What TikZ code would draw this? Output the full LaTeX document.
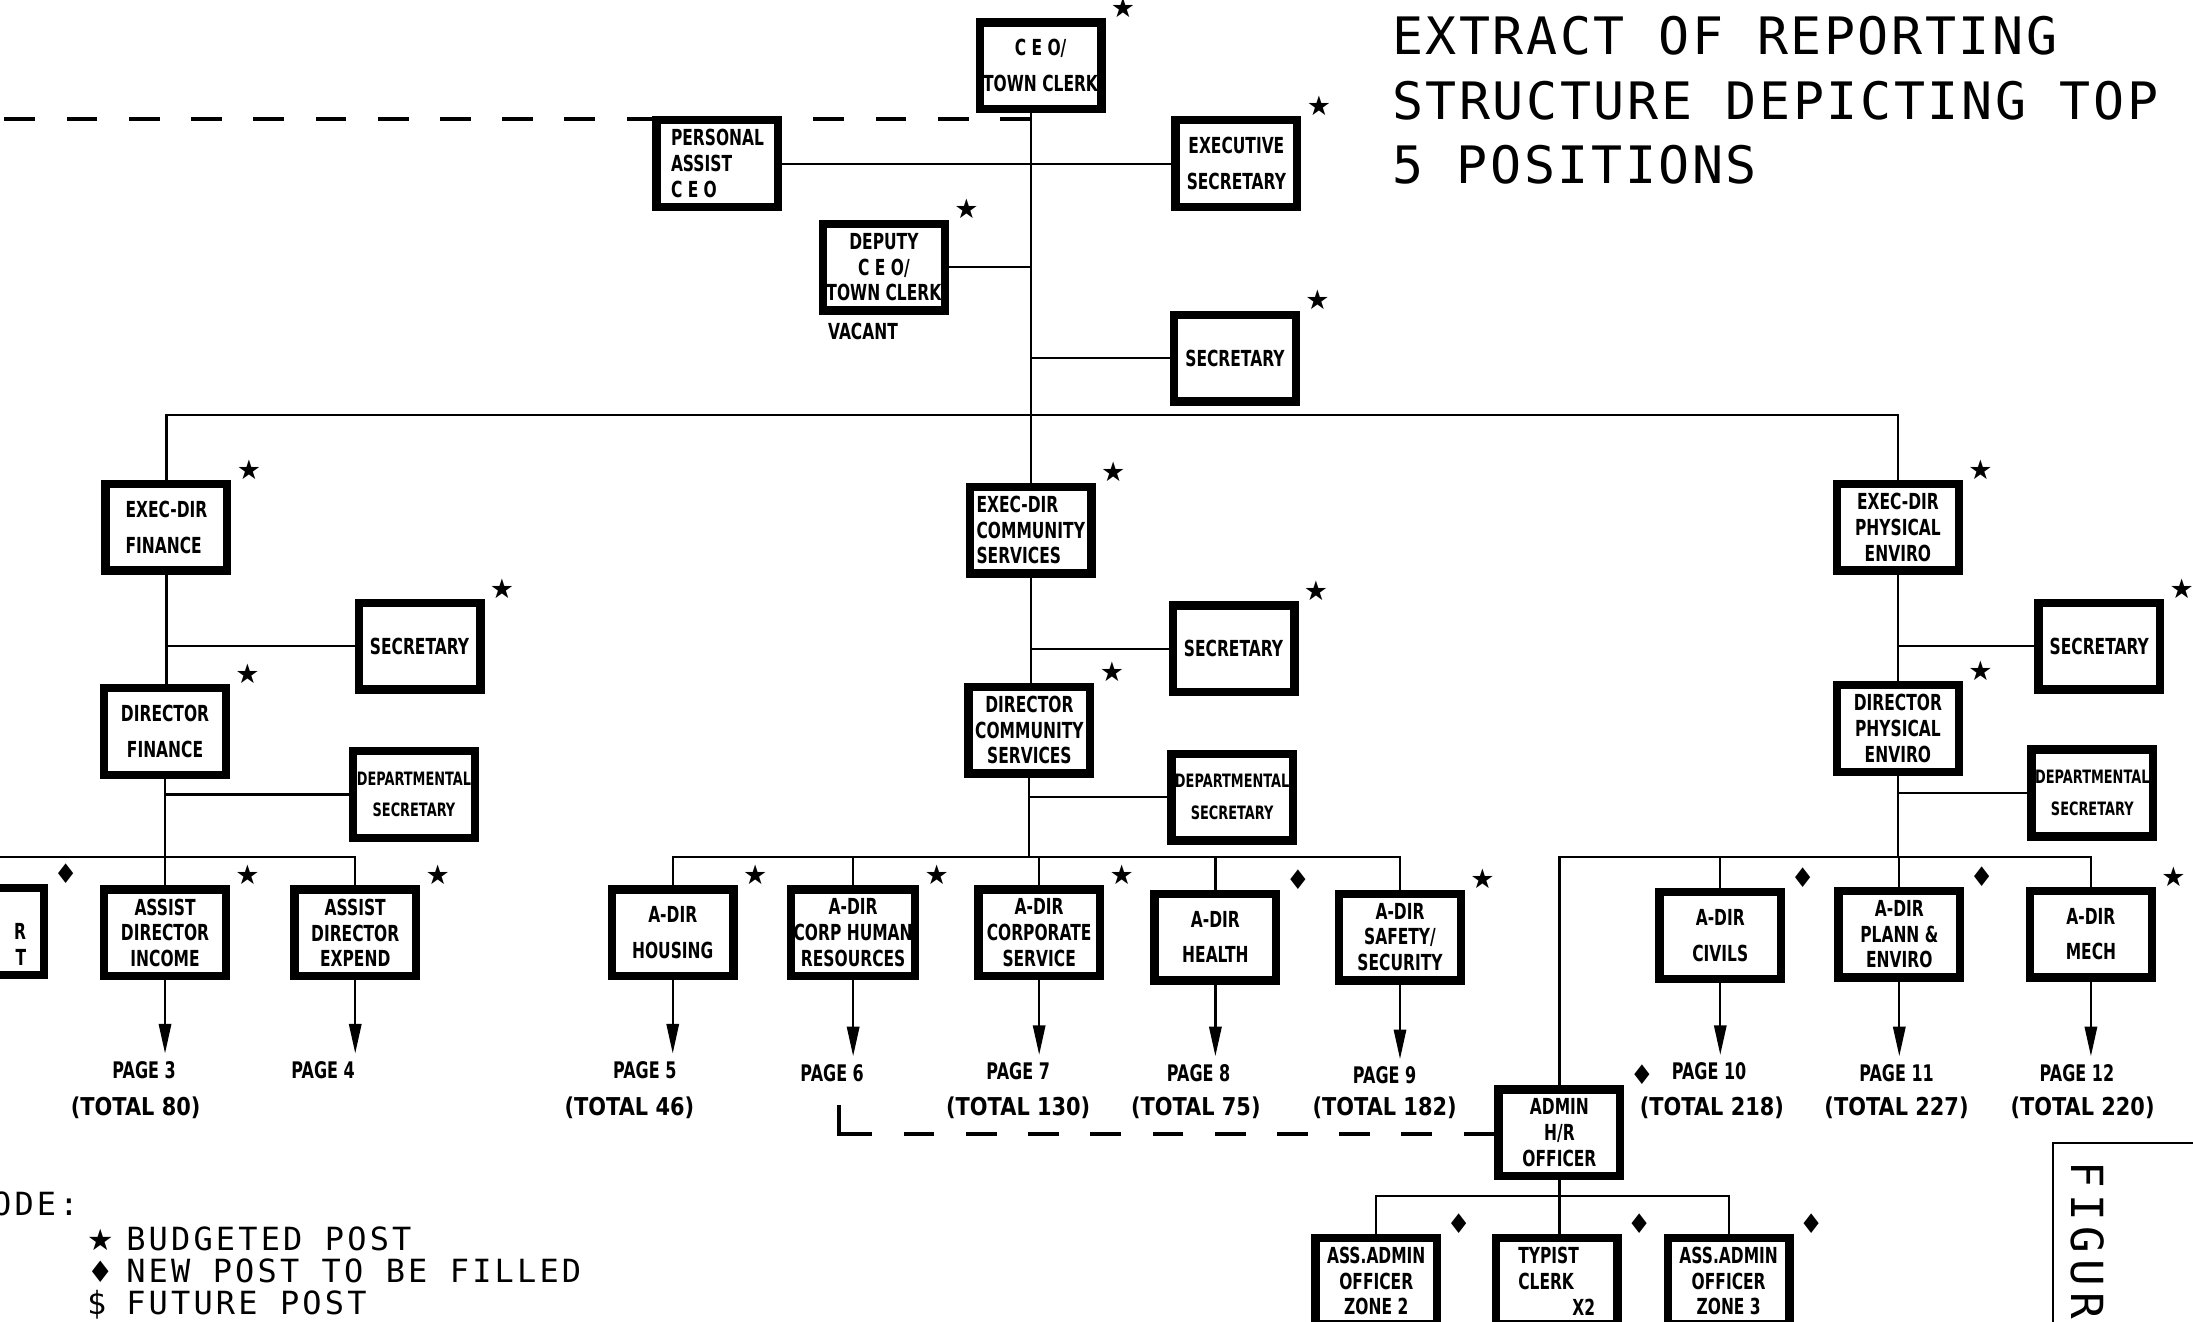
\documentclass[tikz,border=0pt]{standalone}
\usepackage{fontspec}
\usepackage{tikz}
\usetikzlibrary{arrows.meta}
\newfontfamily\boxfont{DejaVu Sans}[FakeStretch=0.7]
\newfontfamily\pagefont{DejaVu Sans}[FakeStretch=0.85]
\newfontfamily\titlefont{DejaVu Sans Mono}[LetterSpace=5]
\newfontfamily\keyfont{DejaVu Sans Mono}[LetterSpace=10]
\newfontfamily\figfont{DejaVu Sans Mono}[LetterSpace=14]
\newfontfamily\symfont{DejaVu Sans}
\newcommand{\budgetmark}[1][11]{{\symfont\fontsize{#1}{#1}\selectfont ★}}
\newcommand{\newmark}[1][11]{{\symfont\fontsize{#1}{#1}\selectfont ♦}}

\begin{document}
\begin{tikzpicture}[x=0.02cm, y=-0.02cm,
  post/.style={draw, line width=3.4pt, minimum width=1.74cm, minimum height=1.24cm,
    inner sep=1pt, align=center, font=\boxfont\bfseries\fontsize{9}{10.5}\selectfont},
  smalltxt/.style={font=\boxfont\bfseries\fontsize{7.5}{9}\selectfont},
  marklbl/.style={inner sep=0pt, xshift=2pt},
  budget/.style={label={[marklbl]north east:\budgetmark}},
  newpost/.style={label={[marklbl]north east:\newmark}},
  link/.style={line width=0.9pt},
  dashlink/.style={line width=1.5pt, dash pattern=on 0.44cm off 0.45cm},
  arr/.style={link, -{Triangle[length=12pt,width=5pt]}},
  pagetxt/.style={font=\boxfont\bfseries\fontsize{9.3}{11}\selectfont, inner sep=3pt},
  tottxt/.style={font=\pagefont\bfseries\fontsize{10}{12}\selectfont, inner sep=2pt},
  keytxt/.style={font=\keyfont\fontsize{13}{15}\selectfont, inner sep=0pt}]
\useasboundingbox (0,0) rectangle (1568,945);

% top level
\node[post, budget] (ceo) at (744,47) {C E O/\\[4pt]TOWN CLERK};
\node[post, align=left] (pa) at (513,117) {PERSONAL\\ASSIST\\C E O};
\node[post, budget] (execsec) at (884,117) {EXECUTIVE\\[4pt]SECRETARY};
\node[post, budget] (deputy) at (632,191) {DEPUTY\\C E O/\\TOWN CLERK};
\node[font=\boxfont\bfseries\fontsize{9}{10.5}\selectfont] (vacant) at (617,237) {VACANT};
\node[post, budget] (sec0) at (883,256) {SECRETARY};

% executive directors
\node[post, budget, align=left] (edfin) at (119,377) {EXEC-DIR\\[4pt]FINANCE};
\node[post, budget, align=left] (edcom) at (737,379) {EXEC-DIR\\COMMUNITY\\SERVICES};
\node[post, budget] (edphy) at (1357,377) {EXEC-DIR\\PHYSICAL\\ENVIRO};

\node[post, budget] (secfin) at (300,462) {SECRETARY};
\node[post, budget] (dirfin) at (118,523) {DIRECTOR\\[4pt]FINANCE};
\node[post, smalltxt] (dsfin) at (296,568) {DEPARTMENTAL\\[4pt]SECRETARY};
\node[post, budget] (seccom) at (882,464) {SECRETARY};
\node[post, budget] (dircom) at (736,522) {DIRECTOR\\COMMUNITY\\SERVICES};
\node[post, smalltxt] (dscom) at (881,570) {DEPARTMENTAL\\[4pt]SECRETARY};
\node[post, budget] (secphy) at (1501,462) {SECRETARY};
\node[post, budget] (dirphy) at (1357,521) {DIRECTOR\\PHYSICAL\\ENVIRO};
\node[post, smalltxt] (dsphy) at (1496,567) {DEPARTMENTAL\\[4pt]SECRETARY};

% assistant directors
\node[post, newpost] (part) at (-12,666) {};
\node[font=\boxfont\bfseries\fontsize{9}{10.5}\selectfont, align=right, anchor=east, inner sep=0pt] (parttxt) at (19,675) {R\hspace{3pt}\\T};
\node[post, budget] (adinc) at (118,667) {ASSIST\\DIRECTOR\\INCOME};
\node[post, budget] (adexp) at (254,667) {ASSIST\\DIRECTOR\\EXPEND};
\node[post, budget] (housing) at (481,667) {A-DIR\\[4pt]HOUSING};
\node[post, budget] (corphr) at (610,667) {A-DIR\\CORP HUMAN\\RESOURCES};
\node[post, budget] (corpserv) at (743,667) {A-DIR\\CORPORATE\\SERVICE};
\node[post, newpost] (health) at (869,670) {A-DIR\\[4pt]HEALTH};
\node[post, budget] (safety) at (1001,670) {A-DIR\\SAFETY/\\SECURITY};
\node[post, newpost] (civils) at (1230,669) {A-DIR\\[4pt]CIVILS};
\node[post, newpost] (plann) at (1358,668) {A-DIR\\PLANN \&\\ENVIRO};
\node[post, budget] (mech) at (1495,668) {A-DIR\\[4pt]MECH};

\node[post, newpost] (admin) at (1115,810) {ADMIN\\H/R\\OFFICER};
\node[post, newpost] (zone2) at (984,916) {ASS.ADMIN\\OFFICER\\ZONE 2};
\node[post, newpost, align=left] (typist) at (1113,916) {TYPIST\\CLERK\\\hspace*{22pt}X2};
\node[post, newpost] (zone3) at (1236,916) {ASS.ADMIN\\OFFICER\\ZONE 3};

% page references
\node[pagetxt] (pg3) at (103,765) {PAGE 3};
\node[pagetxt] (pg4) at (231,765) {PAGE 4};
\node[pagetxt] (pg5) at (461,765) {PAGE 5};
\node[pagetxt] (pg6) at (595,767) {PAGE 6};
\node[pagetxt] (pg7) at (728,766) {PAGE 7};
\node[pagetxt] (pg8) at (857,767) {PAGE 8};
\node[pagetxt] (pg9) at (990,769) {PAGE 9};
\node[pagetxt] (pg10) at (1222,766) {PAGE 10};
\node[pagetxt] (pg11) at (1356,767) {PAGE 11};
\node[pagetxt] (pg12) at (1485,767) {PAGE 12};
\node[tottxt] (tot3) at (97,792) {(TOTAL 80)};
\node[tottxt] (tot5) at (450,792) {(TOTAL 46)};
\node[tottxt] (tot7) at (728,792) {(TOTAL 130)};
\node[tottxt] (tot8) at (855,792) {(TOTAL 75)};
\node[tottxt] (tot9) at (990,792) {(TOTAL 182)};
\node[tottxt] (tot10) at (1224,792) {(TOTAL 218)};
\node[tottxt] (tot11) at (1356,792) {(TOTAL 227)};
\node[tottxt] (tot12) at (1489,792) {(TOTAL 220)};

\coordinate (topbus) at (737,297);
\coordinate (finbus) at (118,613);
\coordinate (combus) at (736,613);
\coordinate (phybus) at (1357,613);
\coordinate (adminbus) at (1115,855);
\coordinate (ceoline) at (0,85);
\coordinate (hrlink) at (600,790);
\coordinate (hrcorner) at (622,811);

% connectors
\draw[link] (ceo.south -| edcom.north) -- (edcom.north);
\draw[link] (pa.east) -- (execsec.west);
\draw[link] (deputy.east) -- (deputy.east -| edcom.north);
\draw[link] (sec0.west) -- (sec0.west -| edcom.north);
\draw[link] (edfin.north) |- (topbus) -| (edphy.north);
\draw[dashlink] (ceoline -| edcom.north) -- (ceoline);

\draw[link] (edfin.south) -- (edfin.south |- dirfin.north);
\draw[link] (secfin.west) -- (secfin.west -| edfin.south);
\draw[link] (dsfin.west) -- (dsfin.west -| dirfin.south);
\draw[link] (dirfin.south) -- (finbus);
\draw[link] (part.north) |- (finbus) -| (adexp.north);
\draw[link] (adinc.north) -- (adinc.north |- finbus);

\draw[link] (edcom.south) -- (edcom.south |- dircom.north);
\draw[link] (seccom.west) -- (seccom.west -| edcom.south);
\draw[link] (dscom.west) -- (dscom.west -| dircom.south);
\draw[link] (dircom.south) -- (combus);
\draw[link] (housing.north) |- (combus) -| (safety.north);
\foreach \n in {corphr, corpserv, health}
  \draw[link] (\n.north) -- (\n.north |- combus);

\draw[link] (edphy.south) -- (edphy.south |- dirphy.north);
\draw[link] (secphy.west) -- (secphy.west -| edphy.south);
\draw[link] (dsphy.west) -- (dsphy.west -| dirphy.south);
\draw[link] (dirphy.south) -- (phybus);
\draw[link] (admin.north) |- (phybus) -| (mech.north);
\foreach \n in {civils, plann}
  \draw[link] (\n.north) -- (\n.north |- phybus);

\draw[link] (zone2.north) |- (adminbus) -| (zone3.north);
\draw[link] (admin.south) -- (admin.south |- typist.north);
\draw[line width=1.5pt] (hrlink) |- (hrcorner);
\draw[dashlink] (admin.west |- hrcorner) -- (hrcorner);

\foreach \b/\p in {adinc/pg3, adexp/pg4, housing/pg5, corphr/pg6, corpserv/pg7,
    health/pg8, safety/pg9, civils/pg10, plann/pg11, mech/pg12}
  \draw[arr] (\b.south) -- (\b.south |- \p.north);

% title, key and figure tab
\node[anchor=north west, inner sep=0pt, align=left,
  font=\titlefont\fontsize{21}{26.4}\selectfont] (title) at (995,11)
  {EXTRACT OF REPORTING\\STRUCTURE DEPICTING TOP\\5 POSITIONS};
\node[keytxt, anchor=base west] (keyhead) at (-22,869) {CODE:};
\node[keytxt, anchor=base west] (key1) at (62,894) {\makebox[15.9pt][l]{\budgetmark[12]}BUDGETED POST};
\node[keytxt, anchor=base west] (key2) at (62,917) {\makebox[15.9pt][l]{\newmark[12]}NEW POST TO BE FILLED};
\node[keytxt, anchor=base west] (key3) at (62,940) {\makebox[15.9pt][l]{\$}FUTURE POST};
\draw[line width=0.8pt] (1468,817) rectangle (1600,990);
\node[rotate=-90, anchor=base west, inner sep=0pt,
  font=\figfont\fontsize{18}{22}\selectfont] (figtxt) at (1481,830) {FIGUR};
\end{tikzpicture}
\end{document}
